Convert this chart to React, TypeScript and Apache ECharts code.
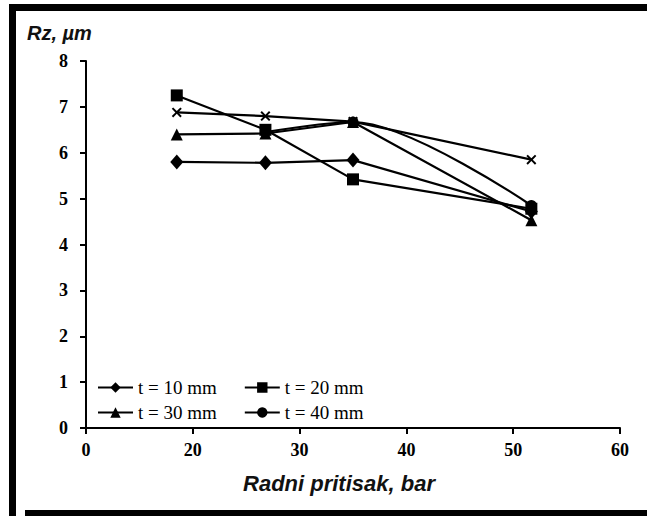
import React, { useEffect, useRef } from "react";
import * as echarts from "echarts";

// Data
const pressure = [18.5, 26.8, 35, 51.7];
const t10 = [5.8, 5.78, 5.84, 4.72];
const t20 = [7.25, 6.5, 5.42, 4.78];
const t30 = [6.4, 6.42, 6.67, 4.53];
const t40Pressure = [26.8, 35, 51.7];
const t40 = [6.45, 6.67, 4.85];
const tX = [6.88, 6.8, 6.68, 5.85];

const seriesNames = ["t = 10 mm", "t = 20 mm", "t = 30 mm", "t = 40 mm"];
const xTicks = [10, 20, 30, 40, 50, 60];
const xTickLabels = ["0", "20", "30", "40", "50", "60"];
const yTicks = [0, 1, 2, 3, 4, 5, 6, 7, 8];

const yTitle = "Rz, µm";
const xTitle = "Radni pritisak, bar";

const pair = (xs: number[], ys: number[]) => xs.map((x, i) => [x, ys[i]]);

const crossPath =
  "path://M0 1.4L1.4 0L5 3.6L8.6 0L10 1.4L6.4 5L10 8.6L8.6 10L5 6.4L1.4 10L0 8.6L3.6 5Z";

export default function App() {
  const ref = useRef<HTMLDivElement>(null);
  useEffect(() => {
    if (!ref.current) return;
    const chart = echarts.init(ref.current, undefined, { renderer: "svg" });
    const lineStyle = { color: "#000", width: 2.2 };
    const itemStyle = { color: "#000" };
    const legendText = {
      fontFamily: "Liberation Serif",
      fontSize: 19,
      color: "#000",
    };
    const tickFont = {
      fontFamily: "Liberation Serif",
      fontWeight: "bold" as const,
      fontSize: 18,
      color: "#000",
    };
    chart.setOption({
      animation: false,
      backgroundColor: "#fff",
      grid: { left: 86, right: 27, top: 61, bottom: 88 },
      xAxis: {
        type: "value",
        min: xTicks[0],
        max: xTicks[xTicks.length - 1],
        interval: 10,
        axisLine: { lineStyle: { color: "#000", width: 2 } },
        axisTick: { show: true, length: 6, inside: false, lineStyle: { color: "#000", width: 2 } },
        axisLabel: {
          ...tickFont,
          margin: 13,
          formatter: (v: number) => {
            const i = xTicks.indexOf(v);
            return i >= 0 ? xTickLabels[i] : "";
          },
        },
        splitLine: { show: false },
      },
      yAxis: {
        type: "value",
        min: yTicks[0],
        max: yTicks[yTicks.length - 1],
        interval: 1,
        axisLine: { show: true, lineStyle: { color: "#000", width: 2 } },
        axisTick: { show: true, length: 6, inside: false, lineStyle: { color: "#000", width: 2 } },
        axisLabel: { ...tickFont, margin: 18 },
        splitLine: { show: false },
      },
      legend: [
        {
          data: [seriesNames[0], seriesNames[1]],
          left: 97,
          top: 378,
          padding: 0,
          itemWidth: 35,
          itemHeight: 13,
          itemGap: 27,
          textStyle: legendText,
        },
        {
          data: [seriesNames[2], seriesNames[3]],
          left: 97,
          top: 403,
          padding: 0,
          itemWidth: 35,
          itemHeight: 13,
          itemGap: 27,
          textStyle: legendText,
        },
      ],
      graphic: [
        { type: "rect", shape: { x: 9, y: 4, width: 638, height: 7 }, style: { fill: "#000" } },
        { type: "rect", shape: { x: 9, y: 4, width: 7, height: 512 }, style: { fill: "#000" } },
        { type: "rect", shape: { x: 25, y: 510, width: 622, height: 6 }, style: { fill: "#000" } },
        {
          type: "text",
          x: 27,
          y: 33,
          style: {
            text: yTitle,
            fontFamily: "Liberation Sans",
            fontWeight: "bold",
            fontStyle: "italic",
            fontSize: 20,
            fill: "#111",
            align: "left",
            verticalAlign: "middle",
          },
        },
        {
          type: "text",
          x: 339,
          y: 483,
          style: {
            text: xTitle,
            fontFamily: "Liberation Sans",
            fontWeight: "bold",
            fontStyle: "italic",
            fontSize: 22,
            fill: "#111",
            align: "center",
            verticalAlign: "middle",
          },
        },
      ],
      series: [
        {
          name: "x",
          type: "line",
          data: pair(pressure, tX),
          symbol: crossPath,
          symbolSize: 10,
          lineStyle,
          itemStyle,
        },
        {
          name: seriesNames[3],
          type: "line",
          data: pair(t40Pressure, t40),
          smooth: 0.3,
          symbol: "circle",
          symbolSize: 11,
          lineStyle,
          itemStyle,
        },
        {
          name: seriesNames[0],
          type: "line",
          data: pair(pressure, t10),
          symbol: "diamond",
          symbolSize: [13, 15],
          lineStyle,
          itemStyle,
        },
        {
          name: seriesNames[1],
          type: "line",
          data: pair(pressure, t20),
          symbol: "rect",
          symbolSize: 12,
          lineStyle,
          itemStyle,
        },
        {
          name: seriesNames[2],
          type: "line",
          data: pair(pressure, t30),
          symbol: "triangle",
          symbolSize: 12,
          lineStyle,
          itemStyle,
        },
      ],
    });
    return () => chart.dispose();
  }, []);
  return (
    <div
      ref={ref}
      style={{ position: "fixed", left: 0, top: 0, width: 647, height: 516, background: "#fff" }}
    />
  );
}
